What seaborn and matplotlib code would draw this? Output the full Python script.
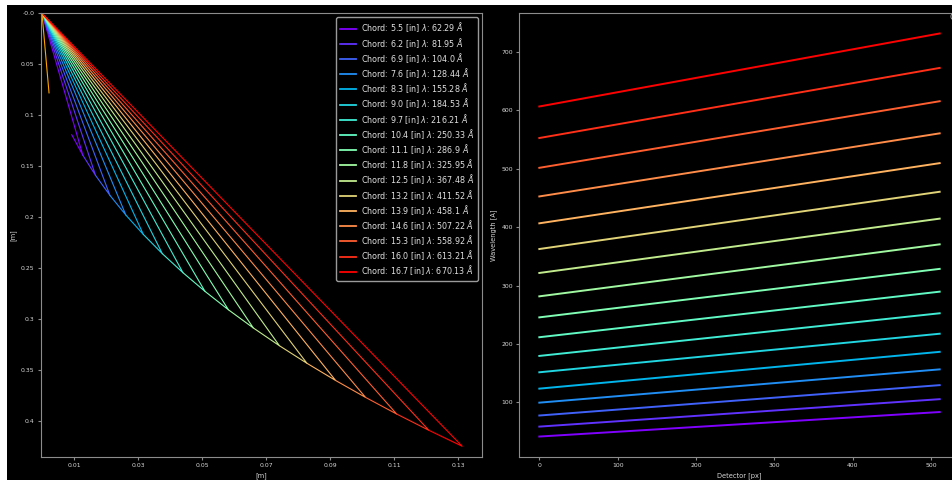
import numpy as np
import pandas as pd
import matplotlib
matplotlib.use("Agg")
import matplotlib.pyplot as plt
import seaborn as sns
from matplotlib.patches import Rectangle

# ---------------- data ----------------
chords = [5.5, 6.2, 6.9, 7.6, 8.3, 9.0, 9.7, 10.4, 11.1, 11.8, 12.5, 13.2, 13.9, 14.6, 15.3, 16.0, 16.7]
lambdas = [62.29, 81.95, 104.0, 128.44, 155.28, 184.53, 216.21, 250.33, 286.9, 325.95,
           367.48, 411.52, 458.1, 507.22, 558.92, 613.21, 670.13]

# detector end points (left panel), consecutive points bound one chord's detector
det_x = [0.00929, 0.01274, 0.01671, 0.02120, 0.02618, 0.03166, 0.03759, 0.04402, 0.05090,
         0.05822, 0.06597, 0.07414, 0.08272, 0.09169, 0.10103, 0.11074, 0.12080, 0.13120]
det_y = [0.1190, 0.13905, 0.15884, 0.17842, 0.19775, 0.21685, 0.23570, 0.25429, 0.27261,
         0.29066, 0.30842, 0.32590, 0.34309, 0.35998, 0.37656, 0.39284, 0.40881, 0.42446]

grating_x = [0.0, 0.0022]
grating_y = [0.0, 0.078]

# right panel: wavelength at first and last detector pixel
pixels = [0, 511]
lam_start = [41.5, 58.5, 77.5, 99.5, 123.5, 151.5, 179.5, 211.5, 245.5, 281.5,
             321.5, 362.5, 406.5, 452.5, 501.5, 552.5, 606.5]
lam_end = [83.5, 105.5, 129.5, 156.5, 186.5, 217.5, 252.5, 289.5, 328.5, 370.5,
           414.5, 460.5, 509.5, 560.5, 615.5, 672.5, 731.5]

y_ticks = [0.0, 0.05, 0.1, 0.15, 0.2, 0.25, 0.3, 0.35, 0.4]
y_ticklabels = ["-0.0", "0.05", "0.1", "0.15", "0.2", "0.25", "0.3", "0.35", "0.4"]
x_ticks = [0.01, 0.03, 0.05, 0.07, 0.09, 0.11, 0.13]
x_ticklabels = ["0.01", "0.03", "0.05", "0.07", "0.09", "0.11", "0.13"]

# ---------------- style ----------------
plt.style.use("dark_background")
plt.rcParams.update({
    "font.family": ["DejaVu Sans"],
    "axes.edgecolor": "#8c8c8c",
    "axes.linewidth": 0.8,
    "xtick.color": "#8c8c8c",
    "ytick.color": "#8c8c8c",
    "xtick.labelcolor": "#d8d8d8",
    "ytick.labelcolor": "#d8d8d8",
    "xtick.labelsize": 4.4,
    "ytick.labelsize": 4.4,
    "xtick.major.size": 2.0,
    "ytick.major.size": 2.0,
    "xtick.major.pad": 2.5,
    "ytick.major.pad": 2.5,
    "axes.labelsize": 4.8,
    "axes.labelcolor": "#d8d8d8",
    "axes.labelpad": 3.0,
    "axes.unicode_minus": False,
})

labels = [f"Chord: {c:.1f} [in] $\\lambda$: {l} $\\AA$" for c, l in zip(chords, lambdas)]
colors = [plt.cm.rainbow(v) for v in np.linspace(0, 1, len(chords))]

rows = []
for i, lab in enumerate(labels):
    rows.append({"label": lab, "x": 0.0, "y": 0.0})
    rows.append({"label": lab, "x": det_x[i + 1], "y": det_y[i + 1]})
    rows.append({"label": lab, "x": det_x[i], "y": det_y[i]})
left_df = pd.DataFrame(rows)

rrows = []
for i, lab in enumerate(labels):
    rrows.append({"label": lab, "px": pixels[0], "lam": lam_start[i]})
    rrows.append({"label": lab, "px": pixels[1], "lam": lam_end[i]})
right_df = pd.DataFrame(rrows)

fig = plt.figure(figsize=(9.53, 4.80), dpi=100, facecolor="black")
fig.patches.append(Rectangle((0, 1 - 5 / 480), 1, 5 / 480, transform=fig.transFigure,
                             facecolor="white", edgecolor="none"))
fig.patches.append(Rectangle((0, 0), 7 / 953, 1, transform=fig.transFigure,
                             facecolor="white", edgecolor="none"))

ax1 = fig.add_axes([40.7 / 953, 1 - 456.7 / 480, (481.7 - 40.7) / 953, (456.7 - 13.3) / 480])
ax2 = fig.add_axes([519.3 / 953, 1 - 456.7 / 480, (959.7 - 519.3) / 953, (456.7 - 13.3) / 480])
for ax in (ax1, ax2):
    ax.set_facecolor("black")

# left panel
sns.lineplot(data=left_df, x="x", y="y", hue="label", hue_order=labels, units="label",
             estimator=None, sort=False, palette=colors, lw=0.8, ax=ax1, legend=True)
sns.lineplot(x=grating_x, y=grating_y, color="orange", lw=0.8, estimator=None,
             sort=False, ax=ax1)
ax1.set_xlim(-0.0004, 0.1373)
ax1.set_ylim(0.4347, 0.0)
ax1.set_yticks(y_ticks)
ax1.set_yticklabels(y_ticklabels)
ax1.set_xticks(x_ticks)
ax1.set_xticklabels(x_ticklabels)
ax1.set_xlabel("[m]")
ax1.set_ylabel("[m]")

leg = ax1.get_legend()
handles = list(leg.legend_handles)
for h in handles:
    h.set_linewidth(1.3)
ax1.legend(handles, labels, loc="upper right", fontsize=5.8, frameon=True,
           facecolor="black", edgecolor="#9a9a9a", labelcolor="#e0e0e0",
           framealpha=1.0, fancybox=True, borderaxespad=0.5, labelspacing=0.18,
           handletextpad=0.7)

# right panel
sns.lineplot(data=right_df, x="px", y="lam", hue="label", hue_order=labels,
             estimator=None, sort=False, palette=colors, lw=1.4, ax=ax2, legend=False)
ax2.set_xticks([0, 100, 200, 300, 400, 500])
ax2.set_yticks([100, 200, 300, 400, 500, 600, 700])
ax2.set_xlabel("Detector [px]")
ax2.set_ylabel("Wavelength [A]")

# text at the right edge, cut off by the figure border as in the reference
fig.text(950 / 953, 1 - 22 / 480, "Chord", fontsize=6, color="#b0b0b0", ha="left", va="bottom")

fig.savefig("out.png", dpi=100, facecolor="black")
